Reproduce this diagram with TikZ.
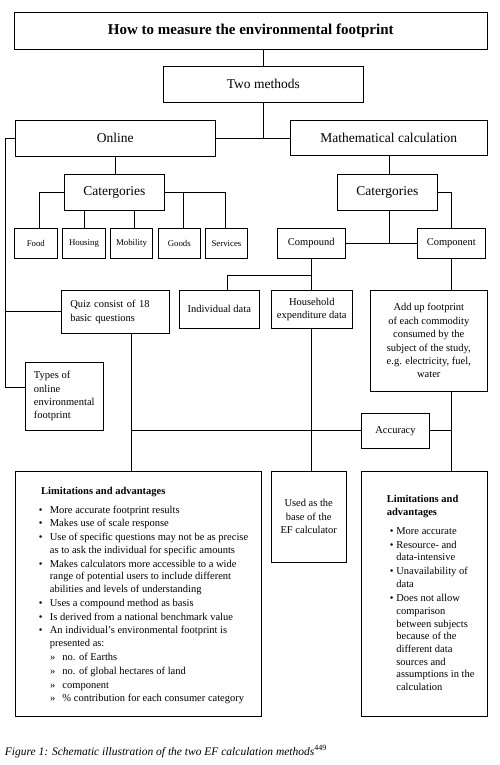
\documentclass[tikz,border=0pt]{standalone}
\usepackage{fontspec}
\setmainfont{Liberation Serif}
\newcommand{\bl}{\makebox[11pt][l]{\textbullet}}
\newcommand{\ind}{\hspace*{11pt}}
\newcommand{\sbl}{\hspace*{11.3pt}\makebox[12.3pt][l]{»}}
\newcommand{\rbl}{\hspace*{3pt}\makebox[6.5pt][l]{\textbullet}}
\newcommand{\rind}{\hspace*{9.5pt}}
\begin{document}
\begin{tikzpicture}[x=1pt,y=-1pt,
  box/.style={draw, line width=0.8pt, inner sep=0pt, align=center},
  conn/.style={draw, line width=0.8pt},
  big/.style={font=\fontsize{13.5}{16}\selectfont},
  small/.style={font=\fontsize{8.8}{10}\selectfont},
  mid/.style={font=\fontsize{10.5}{13.4}\selectfont}]
\useasboundingbox (0,0) rectangle (500,765);
\fill[white] (0,0) rectangle (500,765);

\node[box, minimum width=473pt, minimum height=36.6pt, font=\bfseries\fontsize{15}{18}\selectfont] (title) at (250.8,31) {How to measure the environmental footprint};
\node[box,big,minimum width=200pt,minimum height=36pt] (two) at (263.3,84) {Two methods};
\node[box,big,minimum width=200.7pt,minimum height=35.3pt] (online) at (115.3,138.3) {Online};
\node[box,big,minimum width=197pt,minimum height=34.6pt] (math) at (388.8,138) {Mathematical calculation};
\node[box,big,minimum width=100pt,minimum height=36.4pt] (catL) at (114.3,192.5) {Catergories};
\node[box,big,minimum width=100pt,minimum height=36.4pt] (catR) at (387.3,192.5) {Catergories};

\node[box,small,minimum width=43pt,minimum height=30pt] (food) at (35.8,243.3) {Food};
\node[box,small,minimum width=43.4pt,minimum height=30pt] (housing) at (84,243.3) {Housing};
\node[box,small,minimum width=42.4pt,minimum height=30pt] (mobility) at (131.5,243.3) {Mobility};
\node[box,small,minimum width=42pt,minimum height=30pt] (goods) at (179.3,243.3) {Goods};
\node[box,small,minimum width=42.4pt,minimum height=30pt] (services) at (226.5,243.3) {Services};

\node[box,mid,minimum width=68pt,minimum height=30pt] (compound) at (311.3,243.3) {Compound};
\node[box,mid,minimum width=68pt,minimum height=30pt] (component) at (451.3,243.3) {Component};

\node[box,mid,minimum height=43pt,text width=90pt,inner xsep=9pt,align=left] (quiz) at (115.3,311.8) {Quiz consist of 18\\basic questions};
\node[box,mid,minimum width=80pt,minimum height=38pt] (indiv) at (219.3,309.3) {Individual data};
\node[box,mid,minimum width=81pt,minimum height=38pt] (household) at (311.8,309.3) {Household\\expenditure data};
\node[box,mid,minimum width=117pt,minimum height=100.7pt] (addup) at (428.8,340.7) {Add up footprint\\of each commodity\\consumed by the\\subject of the study,\\e.g. electricity, fuel,\\water};
\node[box,mid,minimum width=78pt,minimum height=68pt,align=left] (types) at (64.3,396.3) {Types of\\online\\environmental\\footprint};
\node[box,mid,minimum width=67.6pt,minimum height=34.7pt] (accuracy) at (395.5,430.7) {Accuracy};

\node[box,minimum width=246.4pt,minimum height=245.7pt] (laL) at (138.5,593.85) {};
\node[box,mid,minimum width=74.7pt,minimum height=91.3pt] (used) at (308.7,516.7) {Used as the\\base of the\\EF calculator};
\node[box,minimum width=126.7pt,minimum height=245.7pt] (laR) at (424.35,593.85) {};

\node[anchor=north west, inner sep=0pt, align=left, font=\fontsize{10.5}{12.7}\selectfont] (laLt) at (38.7,487.5) {%
\hspace*{2.3pt}\textbf{Limitations and advantages}\\[5.4pt]
\bl More accurate footprint results\\[1.1pt]
\bl Makes use of scale response\\[1.1pt]
\bl Use of specific questions may not be as precise\\
\ind as to ask the individual for specific amounts\\[1.1pt]
\bl Makes calculators more accessible to a wide\\
\ind range of potential users to include different\\
\ind abilities and levels of understanding\\[1.1pt]
\bl Uses a compound method as basis\\[1.1pt]
\bl Is derived from a national benchmark value\\[1.1pt]
\bl An individual’s environmental footprint is\\
\ind presented as:\\[1.1pt]
\sbl no. of Earths\\[1.1pt]
\sbl no. of global hectares of land\\[1.1pt]
\sbl component\\[1.1pt]
\sbl \% contribution for each consumer category};

\node[anchor=north west, inner sep=0pt, align=left, font=\fontsize{10.5}{12.7}\selectfont] (laRt) at (386.7,495) {%
\textbf{Limitations and}\\
\textbf{advantages}\\[6.4pt]
\rbl More accurate\\[1.3pt]
\rbl Resource- and\\
\rind data-intensive\\[1.3pt]
\rbl Unavailability of\\
\rind data\\[1.3pt]
\rbl Does not allow\\
\rind comparison\\
\rind between subjects\\
\rind because of the\\
\rind different data\\
\rind sources and\\
\rind assumptions in the\\
\rind calculation};

\node[anchor=base west, inner sep=0pt, font=\itshape\fontsize{11.5}{14}\selectfont] (cap) at (4.7,755) {Figure 1: Schematic illustration of the two EF calculation methods\textsuperscript{\upshape 449}};

% connectors
\draw[conn] (two.north |- title.south) -- (two.north);
\draw[conn] (two.south) -- (two.south |- online.east);
\draw[conn] (online.east) -- (online.east -| math.west);
\coordinate (tl) at (5.7,387.3);
\draw[conn] (online.west) -| (tl) -- (tl -| types.west);
\draw[conn] (quiz.west) -- (quiz.west -| tl);
\draw[conn] (online.south) -- (online.south |- catL.north);
\draw[conn] (catL.west) -| ([xshift=3.5pt]food.north);
\draw[conn] (housing.north) -- (housing.north |- catL.south);
\draw[conn] ([xshift=2.8pt]mobility.north) -- ([xshift=2.8pt]mobility.north |- catL.south);
\draw[conn] (catL.east) -| ([xshift=-1.2pt]services.north);
\draw[conn] ([xshift=4pt]goods.north) -- ([xshift=4pt]goods.north |- catL.east);
\draw[conn] ([xshift=2pt]catR.north) -- ([xshift=2pt]catR.north |- math.south);
\draw[conn] ([xshift=2pt]catR.south) -- ([xshift=2pt]catR.south |- compound.east);
\draw[conn] (compound.east) -- (component.west);
\draw[conn] (catR.east) -| (component.north);
\path (compound.south) ++(0,17) coordinate (cj);
\draw[conn] (compound.south) -- (compound.south |- household.north);
\draw[conn] (cj) -| ([xshift=8pt]indiv.north);
\draw[conn] (component.south) -- (component.south |- addup.north);
\path ([xshift=16.4pt]quiz.south) coordinate (qx);
\draw[conn] (qx) -- (qx |- laL.north);
\draw[conn] (accuracy.west) -- (accuracy.west -| qx);
\draw[conn] (accuracy.east) -- (accuracy.east -| component.south);
\draw[conn] (component.south |- addup.south) -- (component.south |- laR.north);
\draw[conn] (household.south) -- (household.south |- used.north);
\end{tikzpicture}
\end{document}
